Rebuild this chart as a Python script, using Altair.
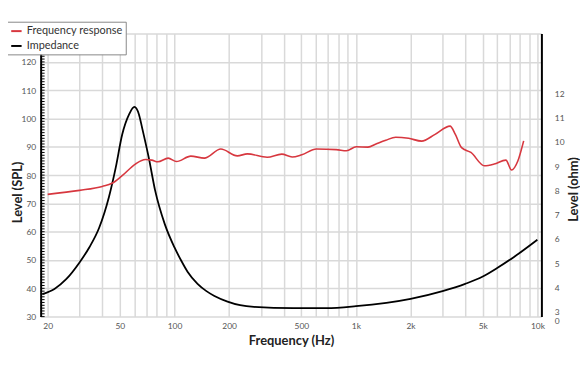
import altair as alt
import pandas as pd

# Frequency response (Hz, dB SPL)
FR_FREQ = [20, 30, 40, 45.3, 51.5, 60.9, 69.2, 75, 81, 92.3, 102.6, 123, 146, 180, 222,
           252, 324, 390, 445, 503, 606, 780, 886, 1004, 1165, 1290, 1460, 1656, 1950,
           2300, 2730, 3300, 3530, 3820, 4300, 5100, 5780, 6700, 7200, 7800, 8400]
FR_SPL = [73.2, 74.6, 76.0, 77.1, 79.8, 83.9, 85.5, 85.3, 84.7, 86.0, 84.8, 86.7, 86.0, 89.2, 86.8,
          87.5, 86.3, 87.4, 86.4, 87.2, 89.2, 89.0, 88.6, 90.0, 89.9, 91.0, 92.3, 93.4, 93.0,
          92.0, 94.4, 97.3, 94.4, 89.7, 88.0, 83.3, 83.9, 85.3, 81.8, 85.0, 92.1]

# Impedance (Hz, ohm)
IMP_FREQ = [18.7, 21.8, 25.3, 29.9, 33.9, 38.4, 43.6, 47.5, 51.5, 56.2, 60.1, 63.7, 66.3, 72.1,
            78.2, 88.5, 100, 109, 118, 134, 150, 166, 196, 230, 274, 452, 688, 1000, 2000, 3000,
            4000, 5000, 6000, 7400, 10000]
IMP_OHM = [3.73, 3.94, 4.34, 5.02, 5.65, 6.45, 7.75, 8.96, 10.3, 11.13, 11.44, 11.13, 10.58, 9.36,
           8.0, 6.6, 5.65, 5.1, 4.65, 4.15, 3.85, 3.65, 3.42, 3.27, 3.2, 3.15, 3.15, 3.23, 3.53, 3.85,
           4.15, 4.45, 4.8, 5.25, 5.97]

SERIES = ["Frequency response", "Impedance"]
COLORS = ["#d7373f", "#000000"]

GRID_FREQS = [20, 30, 40, 50, 60, 70, 80, 90, 100, 200, 300, 400, 500, 600, 700, 800, 900,
              1000, 2000, 3000, 4000, 5000, 6000, 7000, 8000, 9000, 10000]
LABEL_FREQS = [20, 50, 100, 200, 500, 1000, 2000, 5000, 10000]
SPL_TICKS = list(range(30, 131, 10))
SPL_MINOR = list(range(30, 131, 1))
OHM_TICKS = [2.8, 3, 4, 5, 6, 7, 8, 9, 10, 11, 12]

FONT = "Lato"

fr = pd.DataFrame({"f": FR_FREQ, "v": FR_SPL, "s": SERIES[0]})
imp = pd.DataFrame({"f": IMP_FREQ, "v": IMP_OHM, "s": SERIES[1]})
minor = pd.DataFrame({"t": SPL_MINOR})

xscale = alt.Scale(type="log", domain=[18.3, 10520], nice=False)
yspl = alt.Scale(domain=[30, 130], nice=False, zero=False)
yohm = alt.Scale(domain=[2.8, 14.46], nice=False, zero=False)
color = alt.Color("s:N", scale=alt.Scale(domain=SERIES, range=COLORS), title=None,
                  legend=alt.Legend(orient="none", legendX=-34, legendY=-12))

label_expr = ("indexof([" + ",".join(str(v) for v in LABEL_FREQS) + "], datum.value) >= 0 ? "
              "(datum.value >= 1000 ? (datum.value/1000) + 'k' : '' + datum.value) : ''")

xaxis = alt.Axis(values=GRID_FREQS, labelExpr=label_expr, title="Frequency (Hz)", grid=True,
                 ticks=False, domain=False, labelOverlap=False, labelFlush=False,
                 labelPadding=5, titlePadding=5)

ticks = alt.Chart(minor).mark_rule(color="black", strokeWidth=1).encode(
    y=alt.Y("t:Q", scale=yspl, axis=None),
    x=alt.value(0), x2=alt.value(4),
)

red = alt.Chart(fr).mark_line(strokeWidth=1.6, interpolate="monotone").encode(
    x=alt.X("f:Q", scale=xscale, axis=xaxis),
    y=alt.Y("v:Q", scale=yspl,
            axis=alt.Axis(orient="left", values=SPL_TICKS, title="Level (SPL)",
                          labelExpr="datum.value < 130 ? datum.label : ''",
                          ticks=False, grid=True, domainColor="black", domainWidth=2,
                          labelPadding=5, titleX=-23, titleY=160, titleBaseline="middle",
                          titleAlign="center")),
    color=color,
)

black = alt.Chart(imp).mark_line(strokeWidth=1.8, interpolate="monotone").encode(
    x=alt.X("f:Q", scale=xscale, axis=xaxis),
    y=alt.Y("v:Q", scale=yohm,
            axis=alt.Axis(orient="right", values=OHM_TICKS, title="Level (ohm)",
                          labelExpr="datum.value < 2.9 ? '0' : datum.label",
                          labelOffset={"condition": {"test": "datum.value < 2.9", "value": 4}, "value": 0},
                          ticks=False, grid=False, domainColor="black", domainWidth=2,
                          labelAlign="left", labelPadding=13, labelOverlap=False, labelFlush=False,
                          titleAngle=270, titleX=32, titleY=157, titleBaseline="middle",
                          titleAlign="center")),
    color=color,
)

chart = alt.layer(black, red, ticks).resolve_scale(y="independent").properties(
    width=506, height=286,
    autosize=alt.AutoSizeParams(type="none"),
    padding={"left": 33, "top": 24, "right": 39, "bottom": 44},
).configure_view(stroke=None).configure_axis(
    labelFont=FONT, labelFontSize=8.5, labelColor="#555",
    titleFont=FONT, titleFontSize=13, titleFontWeight="bold", titleColor="#222",
    gridColor="#d9d9d9", gridWidth=1.5,
).configure_legend(
    strokeColor="#888", fillColor="white", padding=3, cornerRadius=0,
    labelFont=FONT, labelFontSize=11, labelColor="#333", labelOffset=4, labelLimit=300,
    symbolType="stroke", symbolSize=110, symbolStrokeWidth=2, rowPadding=3,
)

chart.save("out.html", embed_options={"renderer": "svg", "actions": False})
